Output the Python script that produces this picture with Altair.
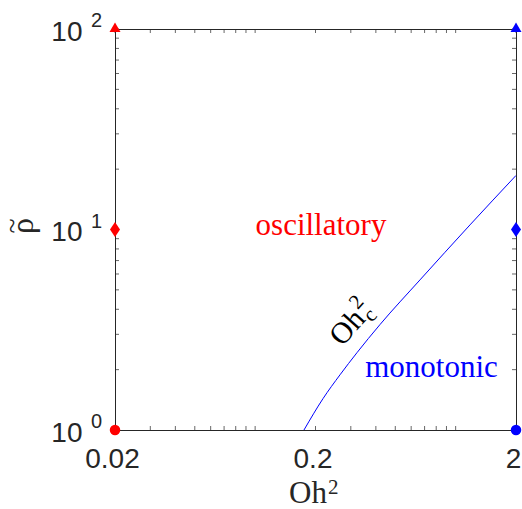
import altair as alt
import pandas as pd

# ---- values ----
curve_oh2 = [0.1752, 0.218, 0.265, 0.322, 0.419, 0.664, 1.179, 2.0]
curve_rho = [1.0, 1.434, 1.885, 2.43, 3.352, 5.606, 10.54, 18.6]

marker_oh2 = [0.02, 2.0]
marker_color = ["#ff0000", "#0000ff"]
triangle_rho = 100
diamond_rho = 10
circle_rho = 1

x_label_values = [0.02, 0.2, 2]
y_label_values = [1, 10, 100]
y_exponents = ["0", "1", "2"]

x_tick_values = [0.02, 0.03, 0.04, 0.05, 0.06, 0.07, 0.08, 0.09,
                 0.1, 0.2, 0.3, 0.4, 0.5, 0.6, 0.7, 0.8, 0.9, 1, 2]
y_tick_values = [1, 2, 3, 4, 5, 6, 7, 8, 9,
                 10, 20, 30, 40, 50, 60, 70, 80, 90, 100]

region_text = ["oscillatory", "monotonic"]
region_oh2 = [0.213, 0.758]
region_rho = [9.39, 1.845]
region_color = ["#ff0000", "#0000ff"]

curve_label_oh2 = [0.271]
curve_label_rho = [2.59]

x_title = "Oh"
x_title_exp = "2"
y_title = "ρ"
y_title_accent = "~"

# ---- tables ----
curve_df = pd.DataFrame({"oh2": curve_oh2, "rho": curve_rho})
def markers(rho):
    return pd.DataFrame({"oh2": marker_oh2, "rho": [rho] * len(marker_oh2), "c": marker_color})
xt_df = pd.DataFrame({"v": x_tick_values})
yt_df = pd.DataFrame({"v": y_tick_values})
exp_df = pd.DataFrame({"rho": y_label_values, "e": y_exponents})
region_df = pd.DataFrame({"oh2": region_oh2, "rho": region_rho, "t": region_text, "c": region_color})
clabel_df = pd.DataFrame({"oh2": curve_label_oh2, "rho": curve_label_rho})
one = pd.DataFrame({"k": [0]})

W = 401
H = 401
AX = "#262626"

xs = alt.Scale(type="log", domain=[0.02, 2], nice=False)
ys = alt.Scale(type="log", domain=[1, 100], nice=False)

x_axis = alt.Axis(values=x_label_values, format="~g", labelFont="Liberation Sans",
                  labelFontSize=28, labelColor=AX, labelPadding=37, labelBaseline="alphabetic",
                  labelOffset=-3, labelFlush=False, labelOverlap=False, ticks=False,
                  domain=False, grid=False, title=None)
y_axis = alt.Axis(values=y_label_values, labelExpr="'10'", labelFont="Liberation Sans",
                  labelFontSize=28, labelColor=AX, labelPadding=33, labelBaseline="alphabetic",
                  labelOffset=11, labelFlush=False, labelOverlap=False, ticks=False,
                  domain=False, grid=False, title=None)

curve = alt.Chart(curve_df).mark_line(clip=True, color="#0000ff", strokeWidth=1,
                                      interpolate="monotone").encode(
    x=alt.X("oh2:Q", scale=xs, axis=x_axis),
    y=alt.Y("rho:Q", scale=ys, axis=y_axis),
)

def marker_layer(rho, shape, size):
    return alt.Chart(markers(rho)).mark_point(shape=shape, size=size, filled=True,
                                              opacity=1, strokeWidth=0).encode(
        x=alt.X("oh2:Q", scale=xs), y=alt.Y("rho:Q", scale=ys),
        color=alt.Color("c:N", scale=None))

tri = marker_layer(triangle_rho, "M0,-1.2L1,0.55L-1,0.55Z", 121)
dia = marker_layer(diamond_rho, "M0,-1L0.67,0L0,1L-0.67,0Z", 225)
cir = marker_layer(circle_rho, "circle", 110)

tick_style = dict(color=AX, thickness=1, size=4)
xt_bottom = alt.Chart(xt_df).mark_tick(**tick_style).encode(
    x=alt.X("v:Q", scale=xs), y=alt.value(H - 2))
xt_top = alt.Chart(xt_df).mark_tick(**tick_style).encode(
    x=alt.X("v:Q", scale=xs), y=alt.value(2))
yt_left = alt.Chart(yt_df).mark_tick(**tick_style).encode(
    y=alt.Y("v:Q", scale=ys), x=alt.value(2))
yt_right = alt.Chart(yt_df).mark_tick(**tick_style).encode(
    y=alt.Y("v:Q", scale=ys), x=alt.value(W - 2))

exps = alt.Chart(exp_df).mark_text(align="left", baseline="alphabetic", font="Liberation Sans",
                                   fontSize=20, color=AX, dy=-2).encode(
    y=alt.Y("rho:Q", scale=ys), x=alt.value(-24), text="e:N")

regions = alt.Chart(region_df).mark_text(align="center", baseline="alphabetic",
                                         font="Liberation Serif", fontSize=31).encode(
    x=alt.X("oh2:Q", scale=xs), y=alt.Y("rho:Q", scale=ys), text="t:N",
    color=alt.Color("c:N", scale=None))

ANG = 312
def clabel(txt, size, dx, dy):
    return alt.Chart(clabel_df).mark_text(align="left", baseline="alphabetic", angle=ANG,
                                          font="Liberation Serif", fontSize=size,
                                          color="#000000", text=txt, dx=dx, dy=dy).encode(
        x=alt.X("oh2:Q", scale=xs), y=alt.Y("rho:Q", scale=ys))
cl_main = clabel("Oh", 30, 0, 0)
cl_sub = clabel("c", 21, 38, 6)
cl_sup = clabel("2", 21, 38, -13)

# axis titles (placed outside the plot area)
xt_main = alt.Chart(one).mark_text(align="left", baseline="alphabetic", font="Liberation Serif",
                                   fontSize=31, color=AX, text=x_title).encode(
    x=alt.value(174), y=alt.value(474))
xt_exp = alt.Chart(one).mark_text(align="left", baseline="alphabetic", font="Liberation Serif",
                                  fontSize=21, color=AX, text=x_title_exp).encode(
    x=alt.value(213), y=alt.value(465))
yt_main = alt.Chart(one).mark_text(align="center", baseline="alphabetic", font="Liberation Serif",
                                   fontSize=32, color=AX, angle=270, text=y_title).encode(
    x=alt.value(-82), y=alt.value(197))
yt_acc = alt.Chart(one).mark_text(align="center", baseline="alphabetic", font="Liberation Serif",
                                  fontSize=28, color=AX, angle=270, text=y_title_accent,
                                  dy=-12).encode(
    x=alt.value(-82), y=alt.value(197))

chart = alt.layer(
    curve, xt_bottom, xt_top, yt_left, yt_right, regions, cl_main, cl_sub, cl_sup,
    exps, xt_main, xt_exp, yt_main, yt_acc, tri, dia, cir
).properties(
    width=W, height=H, autosize="none",
    padding={"left": 115, "top": 29, "right": 6, "bottom": 79},
    background="white",
).configure_view(stroke=AX, strokeWidth=1)

chart.save("out.html", embed_options={"renderer": "svg", "actions": False})
